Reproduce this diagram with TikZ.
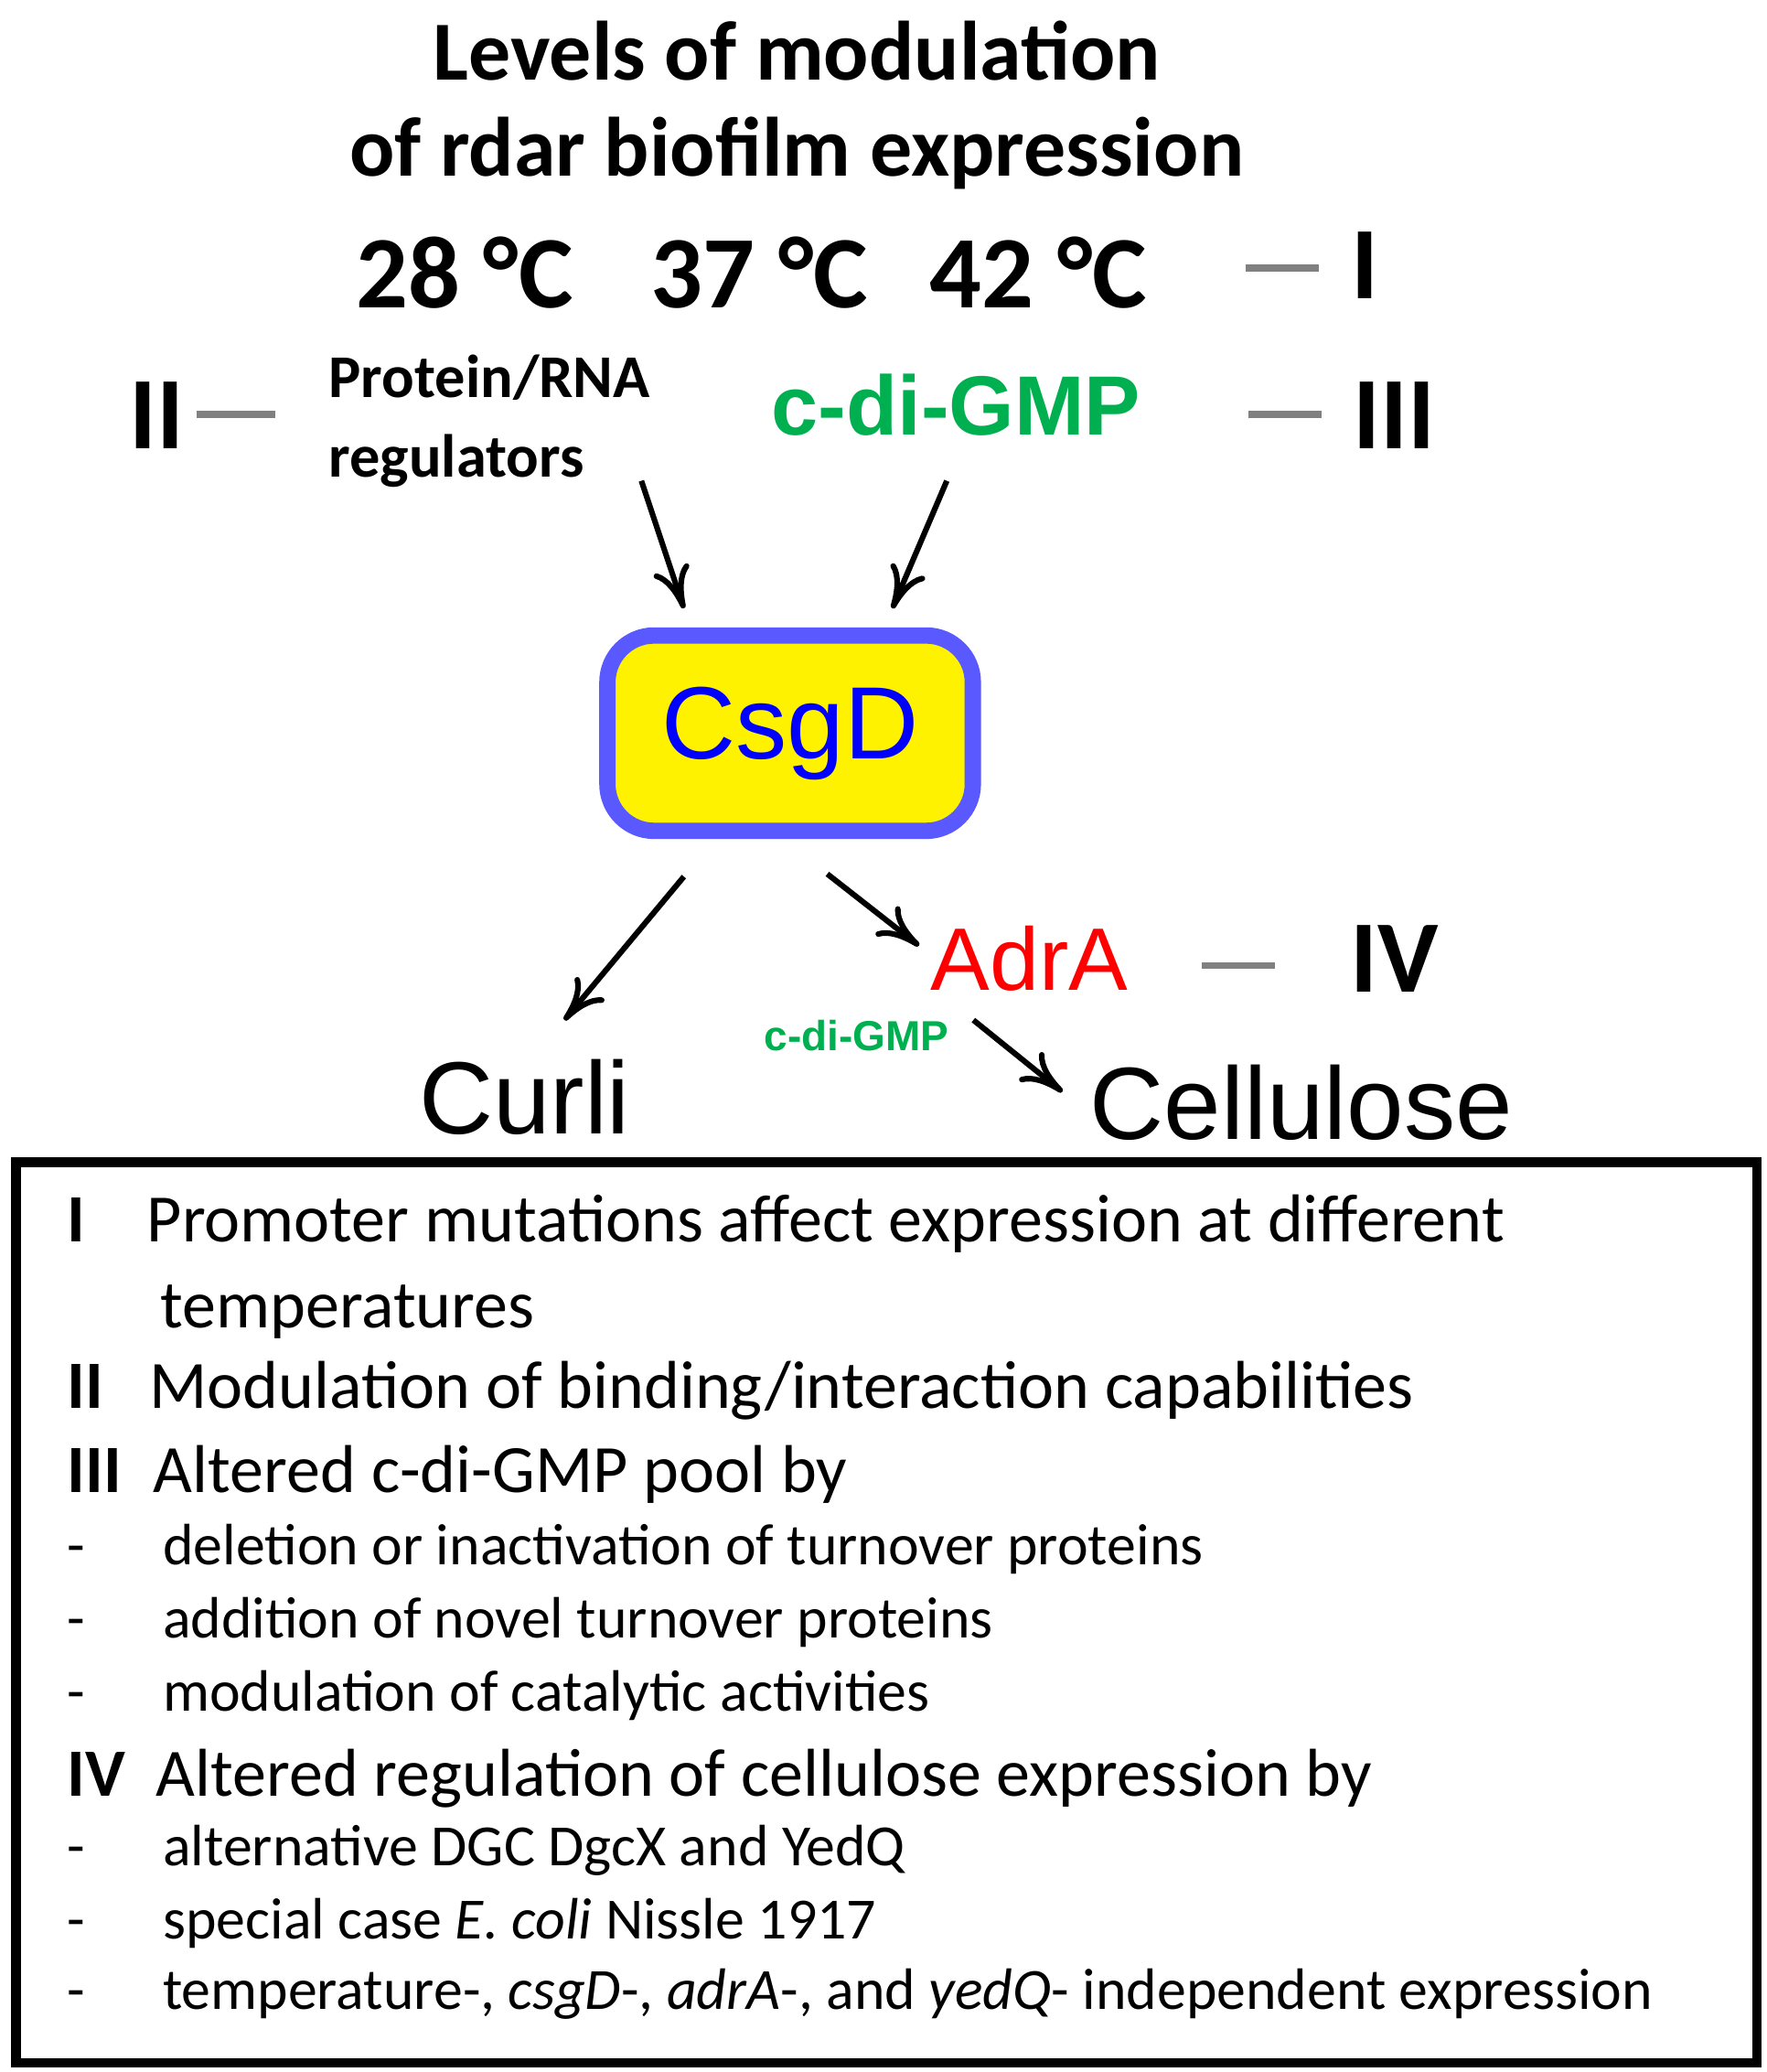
\documentclass[tikz,border=0pt]{standalone}
\usepackage{fontspec}
\setmainfont{Carlito}
\newfontfamily\arialf{Liberation Sans}
\usetikzlibrary{arrows.meta}
\definecolor{cgreen}{HTML}{00B050}
\begin{document}
\begin{tikzpicture}[x=0.01cm,y=-0.01cm]
  \tikzstyle{every node}=[inner sep=0pt]
  \tikzstyle{arr}=[-{To[length=9pt,width=8pt]}, line width=1.2pt]
  \tikzstyle{bar}=[line width=1.5pt, gray]
  \tikzstyle{head}=[font=\fontsize{18}{20}\selectfont\bfseries]
  \tikzstyle{temp}=[font=\fontsize{22}{24}\selectfont\bfseries]
  \tikzstyle{lvl}=[font=\fontsize{13}{15}\selectfont\bfseries, anchor=base west]
  \tikzstyle{item}=[font=\fontsize{14.5}{17}\selectfont, anchor=base west]
  \tikzstyle{key}=[font=\fontsize{14.5}{17}\selectfont\bfseries, anchor=base west]
  \tikzstyle{sub}=[font=\fontsize{12.5}{15}\selectfont, anchor=base west]
  \useasboundingbox (0,0) rectangle (1330,1560);

  % header
  \node[head] (title1) at (600,38) {Levels of modulation};
  \node[head] (title2) at (600,115) {of rdar biofilm expression};
  \node[temp] (t28) at (350,205) {28 °C};
  \node[temp] (t37) at (572,205) {37 °C};
  \node[temp] (t42) at (782,205) {42 °C};
  \node[temp] (lI) at (1028,200) {I};
  \node[temp] (lII) at (118,313) {II};
  \node[temp] (lIII) at (1050,313) {III};
  \node[lvl, anchor=west] (prot) at (247,284) {Protein/RNA};
  \node[lvl, anchor=west] (reg) at (247,347) {regulators};
  \node[font=\arialf\fontsize{18}{20}\selectfont\bfseries, text=cgreen] (cdg) at (720,305) {c-di-GMP};

  \draw[bar] (938,202) -- (993,202);
  \draw[bar] (148,312) -- (207,312);
  \draw[bar] (940,312) -- (995,312);
  \draw[bar] (905,727) -- (960,727);

  % CsgD
  \node[draw=blue!65, line width=3.5pt, fill=yellow, rounded corners=10pt,
        minimum width=2.75cm, minimum height=1.47cm,
        font=\arialf\fontsize{22}{24}\selectfont, text=blue] (csgd) at (595,552) {CsgD};

  \node[font=\arialf\fontsize{19}{21}\selectfont, text=red] (adra) at (775,722) {AdrA};
  \node[temp] (lIV) at (1050,722) {IV};
  \node[font=\arialf\fontsize{9}{10}\selectfont\bfseries, text=cgreen] (cdgs) at (645,780) {c-di-GMP};
  \node[font=\arialf\fontsize{22}{24}\selectfont] (curli) at (395,826) {Curli};
  \node[font=\arialf\fontsize{22}{24}\selectfont] (cell) at (980,830) {Cellulose};

  \coordinate (a1s) at (483,362); \coordinate (a1e) at (515,458);
  \coordinate (a2s) at (713,362); \coordinate (a2e) at (672,458);
  \coordinate (a3s) at (515,660); \coordinate (a3e) at (425,768);
  \coordinate (a4s) at (623,658); \coordinate (a4e) at (692,712);
  \coordinate (a5s) at (733,768); \coordinate (a5e) at (800,822);
  \draw[arr] (a1s) -- (a1e);
  \draw[arr] (a2s) -- (a2e);
  \draw[arr] (a3s) -- (a3e);
  \draw[arr] (a4s) -- (a4e);
  \draw[arr] (a5s) -- (a5e);

  % legend box
  \draw[line width=2pt] (12,875) rectangle (1323,1553);
  \node[key] (kI) at (50,935) {I};
  \node[item] (dI) at (110,935) {Promoter mutations affect expression at different};
  \node[item] (dIb) at (120,1000) {temperatures};
  \node[key] (kII) at (50,1060) {II};
  \node[item] (dII) at (112,1060) {Modulation of binding/interaction capabilities};
  \node[key] (kIII) at (50,1124) {III};
  \node[item] (dIII) at (115,1124) {Altered c-di-GMP pool by};
  \node[sub] (m1) at (50,1178) {-}; \node[sub] (s1) at (122,1178) {deletion or inactivation of turnover proteins};
  \node[sub] (m2) at (50,1233) {-}; \node[sub] (s2) at (122,1233) {addition of novel turnover proteins};
  \node[sub] (m3) at (50,1288) {-}; \node[sub] (s3) at (122,1288) {modulation of catalytic activities};
  \node[key] (kIV) at (50,1352) {IV};
  \node[item] (dIV) at (117,1352) {Altered regulation of cellulose expression by};
  \node[sub] (m4) at (50,1405) {-}; \node[sub] (s4) at (122,1405) {alternative DGC DgcX and YedQ};
  \node[sub] (m5) at (50,1460) {-}; \node[sub] (s5) at (122,1460) {special case \textit{E.~coli} Nissle 1917};
  \node[sub] (m6) at (50,1513) {-}; \node[sub] (s6) at (122,1513) {temperature-, \textit{csgD}-, \textit{adrA}-, and \textit{yedQ}- independent expression};
\end{tikzpicture}
\end{document}
